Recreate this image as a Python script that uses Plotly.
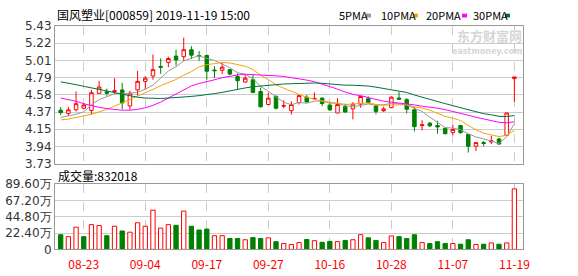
import plotly.graph_objects as go
import pandas as pd

dates = ["2019-08-20","2019-08-21","2019-08-22","2019-08-23","2019-08-26","2019-08-27","2019-08-28","2019-08-29","2019-08-30",
         "2019-09-02","2019-09-03","2019-09-04","2019-09-05","2019-09-06","2019-09-09","2019-09-10","2019-09-11","2019-09-12",
         "2019-09-16","2019-09-17","2019-09-18","2019-09-19","2019-09-20","2019-09-23","2019-09-24","2019-09-25","2019-09-26",
         "2019-09-27","2019-09-30","2019-10-08","2019-10-09","2019-10-10","2019-10-11","2019-10-14","2019-10-15","2019-10-16",
         "2019-10-17","2019-10-18","2019-10-21","2019-10-22","2019-10-23","2019-10-24","2019-10-25","2019-10-28","2019-10-29",
         "2019-10-30","2019-10-31","2019-11-01","2019-11-04","2019-11-05","2019-11-06","2019-11-07","2019-11-08","2019-11-11",
         "2019-11-12","2019-11-13","2019-11-14","2019-11-15","2019-11-18","2019-11-19"]

opens = [4.39,4.35,4.395,4.414,4.387,4.598,4.617,4.62,4.64,4.442,4.641,4.746,4.812,4.93,4.981,5.058,5.051,5.137,5.065,5.066,
         4.886,4.883,4.891,4.805,4.738,4.765,4.621,4.46,4.562,4.44,4.383,4.484,4.551,4.53,4.539,4.453,4.355,4.433,4.406,4.465,
         4.531,4.442,4.383,4.422,4.54,4.52,4.395,4.20,4.23,4.20,4.167,4.113,4.20,4.09,3.945,3.99,3.998,4.035,4.08,4.78]
highs = [4.43,4.43,4.62,4.48,4.64,4.753,4.656,4.785,4.727,4.63,4.875,4.812,5.078,5.03,5.051,5.137,5.286,5.18,5.12,5.08,
         4.934,4.973,4.90,4.844,4.824,4.824,4.668,4.609,4.57,4.512,4.50,4.58,4.578,4.609,4.55,4.48,4.539,4.47,4.49,4.57,
         4.56,4.465,4.433,4.562,4.617,4.54,4.433,4.266,4.245,4.26,4.175,4.207,4.21,4.10,3.99,4.01,4.074,4.05,4.36,4.805]
lows = [4.33,4.32,4.375,4.40,4.336,4.589,4.57,4.59,4.402,4.395,4.57,4.648,4.765,4.84,4.922,4.941,5.0,5.02,5.0,4.765,
        4.785,4.836,4.824,4.652,4.727,4.60,4.42,4.453,4.40,4.414,4.336,4.46,4.484,4.52,4.44,4.38,4.355,4.36,4.277,4.42,
        4.47,4.34,4.367,4.414,4.52,4.35,4.128,4.14,4.18,4.10,4.09,4.08,4.10,3.867,3.886,3.945,3.972,3.965,4.07,4.492]
closes = [4.36,4.395,4.47,4.455,4.606,4.676,4.60,4.63,4.48,4.60,4.746,4.785,4.891,4.92,5.028,5.011,5.137,5.07,5.06,4.871,
          4.878,4.922,4.836,4.754,4.785,4.609,4.433,4.539,4.414,4.445,4.46,4.57,4.492,4.535,4.473,4.395,4.46,4.367,4.465,4.559,
          4.484,4.375,4.406,4.551,4.525,4.402,4.187,4.21,4.198,4.184,4.10,4.152,4.113,3.945,3.99,3.98,4.01,3.972,4.355,4.80]
volumes = [201000,175000,305000,175000,340000,327000,188000,318000,253000,236000,366000,318000,539000,292000,340000,
           331000,526000,318000,266000,279000,188000,188000,149000,149000,132000,162000,149000,158000,106000,80000,
           67000,93000,136000,119000,97000,110000,106000,123000,132000,201000,158000,123000,93000,184000,175000,
           149000,201000,93000,80000,106000,80000,80000,71000,132000,67000,71000,88000,71000,88000,832018]

# moving-average values before enough closes are on the chart
ma5_head = [4.30,4.32,4.34,4.37]
ma10_head = [4.27,4.28,4.30,4.32,4.34,4.37,4.40,4.44,4.48]
ma20_head = [4.54,4.52,4.50,4.47,4.445,4.425,4.41,4.40,4.39,4.39,4.40,4.42,4.45,4.49,4.54,4.59,4.64,4.69,4.72]
ma30_head = [4.74,4.725,4.705,4.685,4.665,4.645,4.625,4.605,4.59,4.57,4.55,4.54,4.535,4.535,4.54,4.545,4.55,4.56,
             4.57,4.58,4.595,4.61,4.63,4.645,4.665,4.68,4.69,4.70,4.71]

price_ticklabels = ["3.73","3.94","4.15","4.37","4.58","4.79","5.01","5.22","5.43"]
vol_tickvals = [0,224000,448000,672000,896000]
vol_ticklabels = ["0","22.40万","44.80万","67.20万","89.60万"]
tick_dates = ["2019-08-23","2019-09-04","2019-09-17","2019-09-27","2019-10-16","2019-10-28","2019-11-07","2019-11-19"]
tick_labels = ["08-23","09-04","09-17","09-27","10-16","10-28","11-07","11-19"]
ma_names = ["5PMA","10PMA","20PMA","30PMA"]
ma_colors = ["#999999","#f5a300","#ff00ff","#00703c"]

RED = "#ff0000"
GREEN = "#008000"

pmin, pmax = float(price_ticklabels[0]), float(price_ticklabels[-1])
price_tickvals = [pmin + k*(pmax-pmin)/8 for k in range(9)]

cs = pd.Series(closes)
def mov(n, head):
    s = cs.rolling(n).mean().tolist()
    s[:n-1] = head
    return s
mas = [mov(5, ma5_head), mov(10, ma10_head), mov(20, ma20_head), mov(30, ma30_head)]

vfill, vline = [], []
for i in range(len(closes)):
    ref = closes[i-1] if i > 0 else opens[i]
    if closes[i] >= ref:
        vfill.append("#ffffff"); vline.append(RED)
    else:
        vfill.append(GREEN); vline.append(GREEN)

fig = go.Figure()
for m, c in zip(mas, ma_colors):
    fig.add_trace(go.Scatter(x=dates, y=m, mode="lines", line=dict(color=c, width=1),
                             xaxis="x", yaxis="y", hoverinfo="skip"))
fig.add_trace(go.Candlestick(x=dates, open=opens, high=highs, low=lows, close=closes,
                             increasing=dict(line=dict(color=RED, width=1), fillcolor="#ffffff"),
                             decreasing=dict(line=dict(color=GREEN, width=1), fillcolor=GREEN),
                             whiskerwidth=0, xaxis="x", yaxis="y"))
fig.add_trace(go.Bar(x=dates, y=volumes, width=0.56,
                     marker=dict(color=vfill, line=dict(color=vline, width=1)),
                     xaxis="x2", yaxis="y2"))

W, H = 578, 276
ML, MR = 55, 55
PW = W - ML - MR
def px(x):
    return (x - ML) / PW
def py(y):
    return 1 - y / H

xr = [-0.74, 60.12]
grid = "#cccccc"
border = "#999999"
axfont = dict(family="DejaVu Sans", size=12, color="#333333")
cjk = "Noto Sans CJK SC"

fig.update_layout(
    width=W, height=H, margin=dict(l=ML, r=MR, t=0, b=0),
    paper_bgcolor="white", plot_bgcolor="white", showlegend=False,
    boxgap=0.35,
    xaxis=dict(domain=[0, 1], anchor="y", type="category", range=xr, tickvals=tick_dates,
               showticklabels=False, showgrid=True, gridcolor=grid, griddash="dash",
               showline=True, mirror=True, linecolor=border, zeroline=False, ticks="",
               rangeslider=dict(visible=False), fixedrange=True),
    yaxis=dict(domain=[py(165), py(20)], range=[pmin, pmax], tickvals=price_tickvals,
               ticktext=price_ticklabels, showgrid=True, gridcolor=grid, showline=True, mirror=True,
               linecolor=border, zeroline=False, ticks="", tickfont=axfont),
    xaxis2=dict(domain=[0, 1], anchor="y2", type="category", range=xr, tickvals=tick_dates,
                ticktext=tick_labels, showgrid=True, gridcolor=grid, griddash="dash",
                showline=True, mirror=True, linecolor=border, zeroline=False,
                ticks="outside", ticklen=4, tickcolor="rgba(0,0,0,0)",
                tickfont=dict(family=cjk, size=12, color=RED)),
    yaxis2=dict(domain=[py(255.3), py(186.7)], range=[0, 896000], tickvals=vol_tickvals,
                ticktext=vol_ticklabels, showgrid=True, gridcolor=grid, showline=True, mirror=True,
                linecolor=border, zeroline=False, ticks="", tickfont=axfont),
)

ann = []
ann.append(dict(x=px(55), y=py(8), xref="paper", yref="paper", xanchor="left", yanchor="middle",
                text="国风塑业[000859] 2019-11-19 15:00", showarrow=False,
                font=dict(family=cjk, size=12, color="#000000")))
ann.append(dict(x=px(56), y=py(177), xref="paper", yref="paper", xanchor="left", yanchor="middle",
                text="成交量:" + str(volumes[-1]), showarrow=False,
                font=dict(family=cjk, size=12, color="#000000")))
leg_x = [337, 379, 424, 471]
sq_x = [366, 413, 462, 505]
shapes = []
for name, c, lx, sx in zip(ma_names, ma_colors, leg_x, sq_x):
    ann.append(dict(x=px(lx), y=py(8), xref="paper", yref="paper", xanchor="left", yanchor="middle",
                    text=name, showarrow=False, font=dict(family=cjk, size=11, color="#000000")))
    shapes.append(dict(type="rect", xref="paper", yref="paper", x0=px(sx), x1=px(sx + 5),
                       y0=py(11), y1=py(7), fillcolor=c, line=dict(width=0)))
ann.append(dict(x=px(523), y=py(30.5), xref="paper", yref="paper", xanchor="right", yanchor="middle",
                text="<b>东方财富网</b>", showarrow=False, borderpad=0,
                font=dict(family=cjk, size=13, color="#d6d6d6")))
ann.append(dict(x=px(523), y=py(46.5), xref="paper", yref="paper", xanchor="right", yanchor="middle",
                text="<b>eastmoney.com</b>", showarrow=False, borderpad=0,
                font=dict(family="DejaVu Sans", size=8, color="#d6d6d6")))
fig.update_layout(annotations=ann, shapes=shapes)

fig.write_html("out.html")
